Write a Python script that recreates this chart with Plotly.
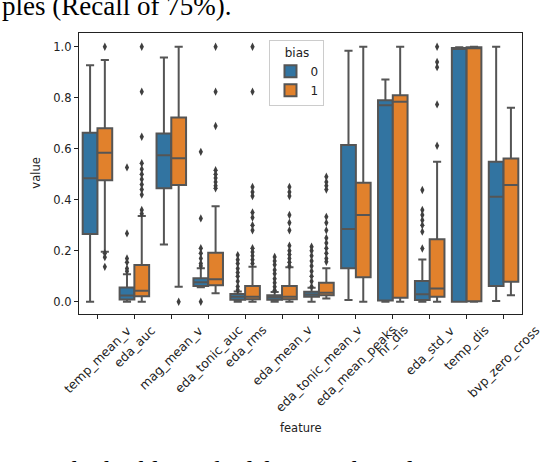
import plotly.graph_objects as go

# feature names on the x axis
features = ["temp_mean_v", "eda_auc", "mag_mean_v", "eda_tonic_auc", "eda_rms",
            "eda_mean_v", "eda_tonic_mean_v", "eda_mean_peaks", "hr_dis",
            "eda_std_v", "temp_dis", "bvp_zero_cross"]

# bias = 0 box stats
lower0 = [0.0, 0.0, 0.225, 0.057, 0.0, 0.0, 0.0, 0.007, 0.0, 0.0, 0.0, 0.003]
q1_0 = [0.266, 0.009, 0.445, 0.062, 0.008, 0.008, 0.020, 0.131, 0.005, 0.007, 0.0, 0.062]
med0 = [0.484, 0.025, 0.575, 0.077, 0.020, 0.018, 0.028, 0.285, 0.771, 0.029, 0.993, 0.412]
q3_0 = [0.663, 0.056, 0.660, 0.092, 0.030, 0.026, 0.039, 0.615, 0.790, 0.081, 0.995, 0.549]
upper0 = [0.928, 0.108, 0.958, 0.131, 0.040, 0.038, 0.055, 0.984, 0.872, 0.166, 0.998, 1.0]
fliers0 = [[], [0.527, 0.268, 0.17, 0.155, 0.13, 0.12], [],
           [0.588, 0.327, 0.21, 0.19, 0.17, 0.15, 0.14, 0.0],
           [0.183, 0.165, 0.15, 0.13, 0.115, 0.10, 0.08, 0.06, 0.046],
           [0.176, 0.16, 0.145, 0.125, 0.11, 0.09, 0.075, 0.059, 0.045],
           [0.216, 0.2, 0.18, 0.16, 0.14, 0.12, 0.10, 0.08, 0.059],
           [], [], [0.438, 0.36, 0.34, 0.32, 0.3, 0.275, 0.209], [], []]

# bias = 1 box stats
lower1 = [0.196, 0.0, 0.059, 0.033, 0.0, 0.0, 0.013, 0.0, 0.0, 0.0, 0.0, 0.026]
q1_1 = [0.477, 0.022, 0.458, 0.065, 0.010, 0.010, 0.026, 0.096, 0.016, 0.020, 0.002, 0.078]
med1 = [0.584, 0.043, 0.563, 0.088, 0.020, 0.020, 0.035, 0.340, 0.784, 0.052, 0.997, 0.458]
q3_1 = [0.680, 0.144, 0.723, 0.192, 0.062, 0.062, 0.075, 0.467, 0.810, 0.245, 0.998, 0.562]
upper1 = [0.948, 0.336, 1.0, 0.375, 0.137, 0.135, 0.131, 1.0, 1.0, 0.549, 1.0, 0.761]
fliers1 = [[1.0, 0.19, 0.175, 0.137],
           [1.0, 0.824, 0.647, 0.543, 0.52, 0.5, 0.48, 0.46, 0.44, 0.42, 0.36, 0.345],
           [0.0],
           [1.0, 0.824, 0.689, 0.516, 0.5, 0.485, 0.47, 0.455, 0.445],
           [1.0, 0.824, 0.45, 0.43, 0.415, 0.35, 0.33, 0.30, 0.28, 0.21, 0.195, 0.18, 0.165, 0.15],
           [0.45, 0.43, 0.415, 0.34, 0.31, 0.28, 0.22, 0.2, 0.185, 0.17, 0.155, 0.14],
           [0.49, 0.47, 0.455, 0.44, 0.333, 0.31, 0.28, 0.25, 0.23, 0.21, 0.19, 0.17, 0.157],
           [], [], [1.0, 0.94, 0.92, 0.774, 0.612], [], []]

groups = [("0", "#3274a1", -0.2, lower0, q1_0, med0, q3_0, upper0, fliers0),
          ("1", "#e1812c", 0.2, lower1, q1_1, med1, q3_1, upper1, fliers1)]

edge = "#555555"
dark = "#3f3f3f"
font = "DejaVu Sans"

fig = go.Figure()
for name, color, off, lo, q1, md, q3, up, fl in groups:
    xs = [i + off for i in range(len(features))]
    fig.add_trace(go.Box(x=xs, lowerfence=lo, q1=q1, median=md, q3=q3, upperfence=up,
                         width=0.4, whiskerwidth=0.55, fillcolor=color, name=name,
                         line=dict(color=edge, width=2), boxpoints=False))
    fx, fy = [], []
    for i, pts in enumerate(fl):
        for v in pts:
            fx.append(i + off)
            fy.append(v)
    fig.add_trace(go.Scatter(x=fx, y=fy, mode="markers", showlegend=False,
                             marker=dict(symbol="diamond-tall", size=6, color=dark,
                                         line=dict(width=0))))

# rotated feature labels, centred under each tick like matplotlib
for i, lab in enumerate(features):
    fig.add_annotation(x=i, y=-0.02, xref="x", yref="paper", text=lab, showarrow=False,
                       textangle=-45, xanchor="center", yanchor="top",
                       font=dict(family=font, size=12.5, color="#222"))

fig.add_annotation(x=0.5, y=-0.405, xref="paper", yref="paper", text="feature",
                   xanchor="center", yanchor="middle",
                   showarrow=False, font=dict(family=font, size=11.5, color="#222"))
fig.add_annotation(x=-0.099, y=0.5, xref="paper", yref="paper", text="value", textangle=-90,
                   xanchor="center", yanchor="middle",
                   showarrow=False, font=dict(family=font, size=11.5, color="#222"))

# surrounding page text
fig.add_annotation(x=-0.178, y=1.095, xref="paper", yref="paper", xanchor="left", yanchor="middle",
                   text="ples (Recall of 75%).", showarrow=False,
                   font=dict(family="Liberation Serif", size=27, color="black"))
fig.add_annotation(x=-0.178, y=-0.56, xref="paper", yref="paper", xanchor="left", yanchor="middle",
                   text="Even the highly ranked features based on XGBoost-trained", showarrow=False,
                   font=dict(family="Liberation Serif", size=27, color="black"))

fig.update_layout(
    width=558, height=462,
    margin=dict(l=79, r=36, t=33, b=148),
    paper_bgcolor="white", plot_bgcolor="white",
    boxmode="overlay",
    font=dict(family=font, size=11.5, color="#222"),
    legend=dict(x=0.43, y=0.975, xanchor="left", yanchor="top", tracegroupgap=0,
                title=dict(text="bias", side="top center", font=dict(size=12)),
                bgcolor="rgba(255,255,255,0.8)", bordercolor="#cccccc", borderwidth=1,
                font=dict(size=12)),
)
fig.update_xaxes(range=[-0.5, 11.5], tickvals=list(range(len(features))), showticklabels=False,
                 ticks="outside", ticklen=4, tickcolor="#222", showgrid=False, zeroline=False,
                 showline=True, linecolor="#222", linewidth=1.2, mirror=True)
fig.update_yaxes(range=[-0.048, 1.054], tickvals=[0, 0.2, 0.4, 0.6, 0.8, 1.0], tickformat=".1f",
                 ticks="outside", ticklen=4, tickcolor="#222", showgrid=False, zeroline=False,
                 showline=True, linecolor="#222", linewidth=1.2, mirror=True)

# drop the default page margin so the figure sits at the window corner
fig.write_html("out.html", config={"displayModeBar": False},
               post_script="document.body.style.margin='0';")
